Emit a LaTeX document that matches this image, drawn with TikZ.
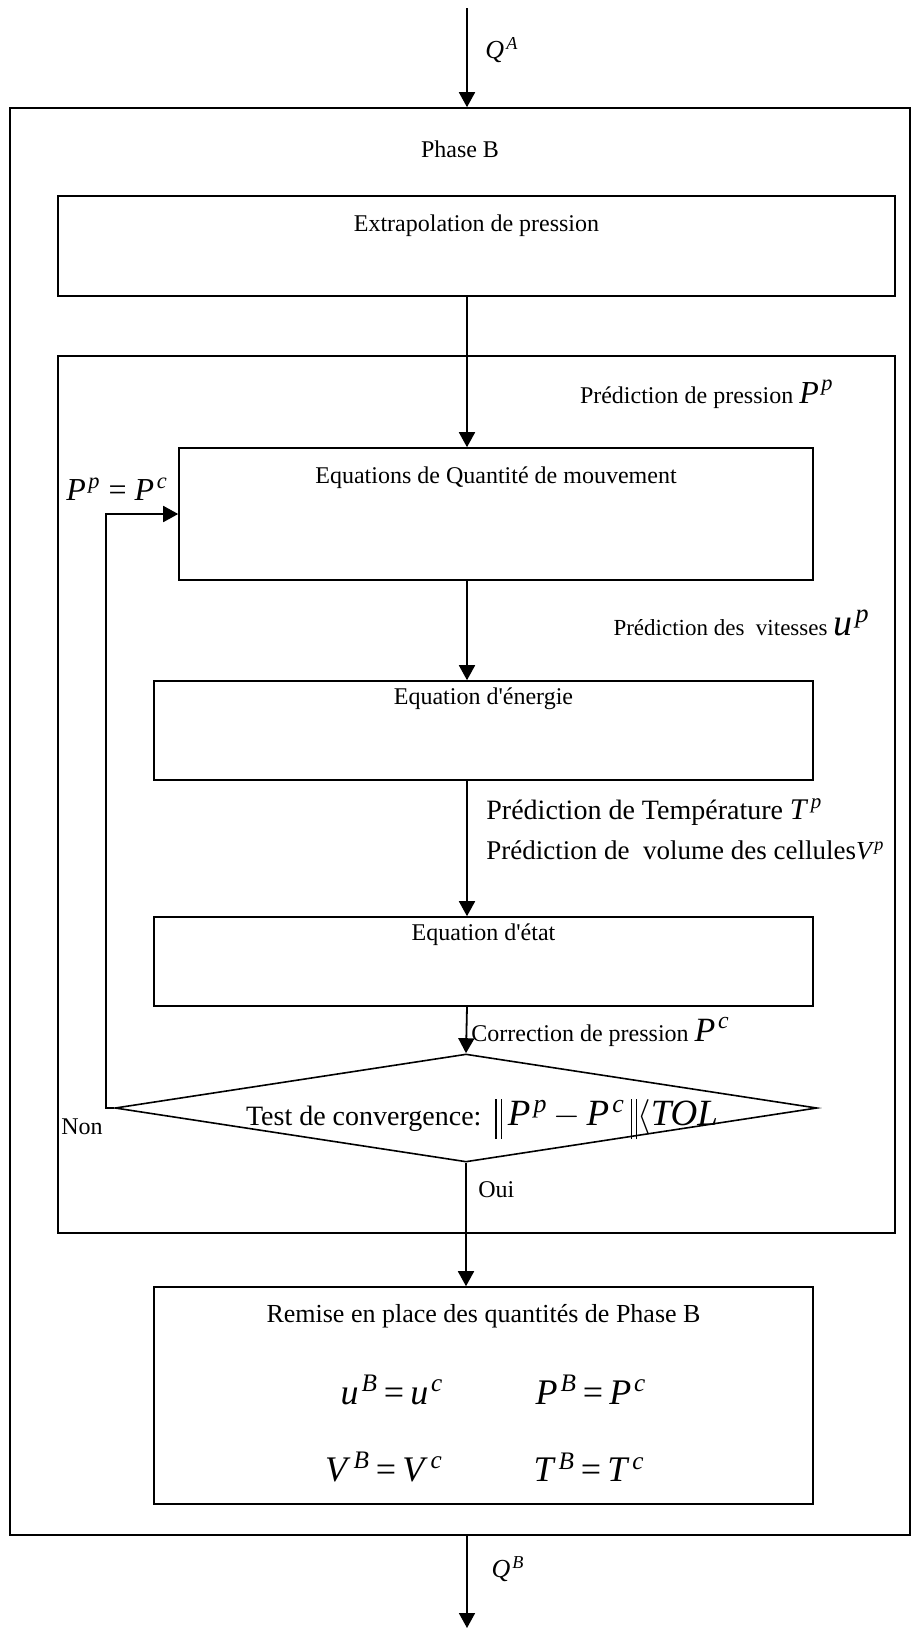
\documentclass[tikz,border=0pt]{standalone}
\usepackage{fontspec}
\setmainfont{Liberation Serif}
\usetikzlibrary{arrows.meta,positioning,calc,shapes.geometric}
\newcommand{\vq}[2]{\textit{#1}\kern0.08em\textsuperscript{\textit{#2}}}
\newcommand{\fs}[1]{\fontsize{#1}{#1}\selectfont}
\newcommand{\nbar}{\raisebox{-7pt}{\rule{0.6pt}{20pt}\kern2pt\rule{0.6pt}{20pt}}}

\begin{document}
\begin{tikzpicture}[x=0.5pt,y=-0.5pt,
frame/.style={draw,line width=0.8pt,inner sep=0pt},
decision/.style={draw,diamond,line width=0.8pt,inner sep=0pt,minimum width=351pt,minimum height=54pt},
lbl/.style={inner sep=1pt,font=\fs{12}},
eq/.style={inner sep=0pt,font=\fs{18}},
arr/.style={-{Triangle[length=7.5pt,width=8pt]},line width=0.9pt}]
\useasboundingbox (0,0) rectangle (912,1634);
% cadres
\node[frame,minimum width=450pt,minimum height=713.5pt] (phaseB) at (460,821.5) {};
\node[frame,minimum width=418.5pt,minimum height=438.5pt] (boucle) at (476.5,794.5) {};
\node[frame,minimum width=418.5pt,minimum height=50pt] (extrap) at (476.5,246) {};
\node[frame,minimum width=317pt,minimum height=66pt] (qdm) at (496,514) {};
\node[frame,minimum width=329.5pt,minimum height=49.5pt] (energie) at (483.5,730.5) {};
\node[frame,minimum width=329.5pt,minimum height=44.5pt] (etat) at (483.5,961.5) {};
\node[decision] (test) at (466,1108) {};
\node[frame,minimum width=329.5pt,minimum height=108.5pt] (remise) at (483.5,1395.5) {};
\coordinate (entree) at (467,8);
\coordinate (sortie) at (467,1628);
% textes des boites
\node[lbl] (tphase) at (460,149) {Phase B};
\node[lbl,below=8.5pt of extrap.north] (textrap) {Extrapolation de pression};
\node[lbl,below=8.5pt of qdm.north] (tqdm) {Equations de Quantit\'e de mouvement};
\node[lbl,below=2.5pt of energie.north] (tenergie) {Equation d\textquotesingle\'energie};
\node[lbl,below=2.5pt of etat.north] (tetat) {Equation d\textquotesingle\'etat};
\node[lbl,font=\fs{13},below=8pt of remise.north] (tremise) {Remise en place des quantit\'es de Phase B};
\node[eq] (uB) at (392,1390) {\vq{u}{B}\,=\,\vq{u}{c}};
\node[eq] (PB) at (591,1390) {\vq{P}{B}\,=\,\vq{P}{c}};
\node[eq] (VB) at (384,1467) {\vq{V}{B}\,=\,\vq{V}{c}};
\node[eq] (TB) at (589,1467) {\vq{T}{B}\,=\,\vq{T}{c}};
\node[inner sep=0pt,font=\fs{14}] (ttest) at (482,1119) {Test de convergence:\, {\fs{18.5}\nbar\,\vq{P}{p}\,\(-\)\,\vq{P}{c}\,\nbar\(\langle\)\textit{TOL}}};
% fleches
\draw[arr] (entree) -- (entree |- phaseB.north);
\draw[arr] (extrap.south -| entree) -- (qdm.north -| entree);
\draw[arr] (qdm.south -| entree) -- (energie.north -| entree);
\draw[arr] (energie.south -| entree) -- (etat.north -| entree);
\draw[arr] (etat.south -| entree) -- (test.north);
\draw[arr] (test.south) -- (remise.north -| test.south);
\draw[arr] (phaseB.south -| entree) -- (sortie);
\draw[arr] (test.west) -- ++(-8,0) |- (qdm.west);
% etiquettes
\node[lbl,font=\fs{13}] (QA) at (502,50) {\vq{Q}{A}};
\node[lbl,font=\fs{13}] (QB) at (508,1569) {\vq{Q}{B}};
\node[lbl,anchor=east] (lpp) at (836,394) {Pr\'ediction de pression {\fs{16}\vq{P}{p}}};
\node[lbl,font=\fs{16}] (lpc) at (117,489) {\vq{P}{p} = \vq{P}{c}};
\node[lbl,font=\fs{11.5},anchor=east] (lup) at (872,623) {Pr\'ediction des\ \ vitesses {\fs{19}\vq{u}{p}}};
\node[lbl,font=\fs{14},anchor=west] (ltp) at (484,812) {Pr\'ediction de Temp\'erature {\fs{15}\vq{T}{p}}};
\node[lbl,font=\fs{13.5},anchor=west] (lvp) at (484,850) {Pr\'ediction de\ \ volume des cellules{\fs{13}\textit{V}\textsuperscript{\textit{p}}}};
\node[lbl,anchor=west] (lpcor) at (469,1032) {Correction de pression {\fs{17}\vq{P}{c}}};
\node[lbl,anchor=west] (lnon) at (59,1127) {Non};
\node[lbl,anchor=west] (loui) at (476,1190) {Oui};
\end{tikzpicture}
\end{document}
